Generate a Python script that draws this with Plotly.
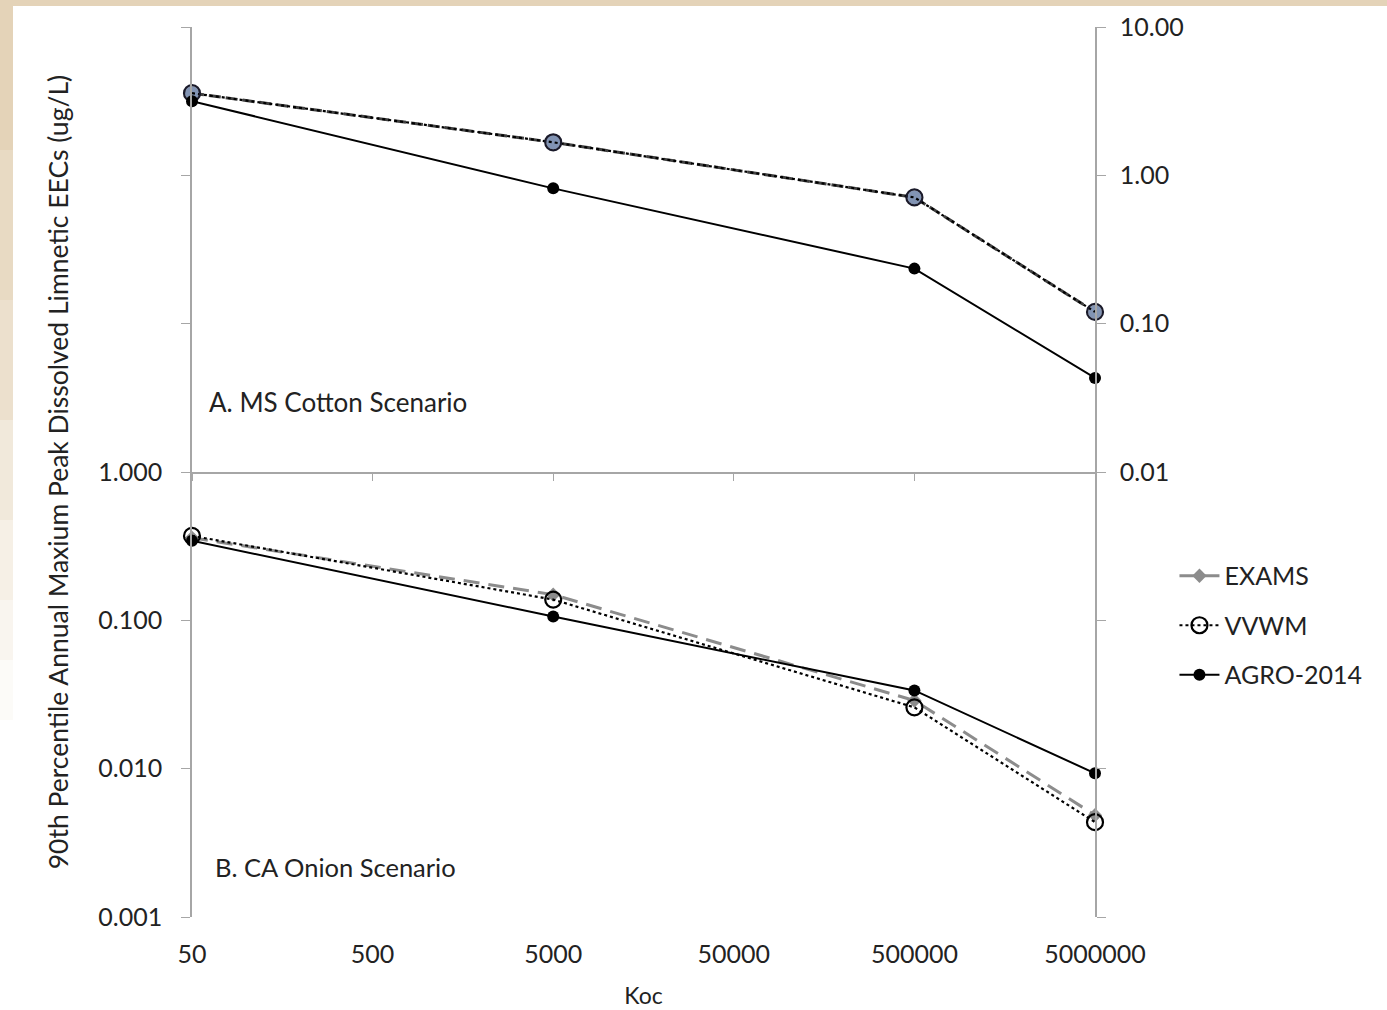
import math
import plotly.graph_objects as go

koc = [50, 5000, 500000, 5000000]

# Panel A: MS Cotton (top, right axis)
a_exams = [3.58, 1.67, 0.71, 0.120]
a_vvwm = [3.58, 1.67, 0.71, 0.120]
a_agro = [3.16, 0.817, 0.235, 0.0431]

# Panel B: CA Onion (bottom, left axis)
b_exams = [0.36, 0.149, 0.0288, 0.00486]
b_vvwm = [0.371, 0.138, 0.0259, 0.00436]
b_agro = [0.344, 0.106, 0.0337, 0.0093]

x_ticks = [50, 500, 5000, 50000, 500000, 5000000]
x_ticklabels = ["50", "500", "5000", "50000", "500000", "5000000"]
yb_ticks = [0.001, 0.01, 0.1, 1]
yb_labels = ["0.001", "0.010", "0.100", "1.000"]
ya_ticks = [0.01, 0.1, 1, 10]
ya_labels = ["0.01", "0.10", "1.00", "10.00"]

FONT = "Lato, Open Sans, sans-serif"
GRAY = "#8c8c8c"
AXC = "#a6a6a6"
TXT = "#222222"

fig = go.Figure()

# Bottom panel
fig.add_trace(go.Scatter(x=koc, y=b_exams, name="EXAMS", legendgroup="g1", mode="lines+markers",
                         line=dict(color=GRAY, width=3, dash="16px,9px"),
                         marker=dict(symbol="diamond", size=11, color=GRAY),
                         cliponaxis=False, xaxis="x", yaxis="y"))
fig.add_trace(go.Scatter(x=koc, y=b_vvwm, name="VVWM", legendgroup="g2", mode="lines+markers",
                         line=dict(color="black", width=2.2, dash="dot"),
                         marker=dict(symbol="circle-open", size=16, color="black", line=dict(width=2.2)),
                         cliponaxis=False, xaxis="x", yaxis="y"))
fig.add_trace(go.Scatter(x=koc, y=b_agro, name="AGRO-2014", legendgroup="g3", mode="lines+markers",
                         line=dict(color="black", width=2),
                         marker=dict(symbol="circle", size=12, color="black"),
                         cliponaxis=False, xaxis="x", yaxis="y"))

# Top panel
fig.add_trace(go.Scatter(x=koc, y=a_exams, name="EXAMS", mode="lines+markers", showlegend=False,
                         line=dict(color="#404040", width=3, dash="12px,5px"),
                         marker=dict(symbol="circle", size=14, color="#8294b4"),
                         cliponaxis=False, xaxis="x2", yaxis="y2"))
fig.add_trace(go.Scatter(x=koc, y=a_vvwm, name="VVWM", mode="lines+markers", showlegend=False,
                         line=dict(color="black", width=2.2, dash="dot"),
                         marker=dict(symbol="circle-open", size=16, color="#1a1a2a", line=dict(width=2.2)),
                         cliponaxis=False, xaxis="x2", yaxis="y2"))
fig.add_trace(go.Scatter(x=koc, y=a_agro, name="AGRO-2014", mode="lines+markers", showlegend=False,
                         line=dict(color="black", width=2),
                         marker=dict(symbol="circle", size=12, color="black"),
                         cliponaxis=False, xaxis="x2", yaxis="y2"))

xr = [math.log10(koc[0]) - 1e-6, math.log10(koc[-1]) + 1e-6]

fig.update_layout(
    width=1387, height=1010,
    margin=dict(l=192, r=292, t=27, b=93),
    paper_bgcolor="white", plot_bgcolor="white",
    font=dict(family=FONT, size=25, color=TXT),
    showlegend=True,
    legend=dict(x=1.088, y=0.409, xanchor="left", yanchor="top",
                font=dict(size=25, color=TXT), bgcolor="rgba(0,0,0,0)",
                itemwidth=40, tracegroupgap=14),
    xaxis=dict(type="log", range=xr, domain=[0, 1], anchor="y", automargin=False,
               tickvals=x_ticks, ticktext=x_ticklabels,
               showgrid=False, zeroline=False, showline=False,
               ticks="", ticklen=0, tickfont=dict(size=25), ticklabelstandoff=20,
               title=dict(text="Koc", font=dict(size=23), standoff=20)),
    xaxis2=dict(type="log", range=xr, domain=[0, 1], anchor="y2", matches="x", automargin=False,
                tickvals=x_ticks, showticklabels=False,
                showgrid=False, zeroline=False, showline=True, linecolor=AXC, linewidth=1.5,
                ticks="outside", ticklen=7, tickcolor=AXC),
    yaxis=dict(type="log", range=[-3, 0], domain=[0, 0.5], anchor="x", side="left", automargin=False,
               tickvals=yb_ticks, ticktext=yb_labels,
               showgrid=False, zeroline=False, showline=True, linecolor=AXC, linewidth=1.5,
               ticks="outside", ticklen=9, tickcolor=AXC, mirror="ticks",
               tickfont=dict(size=25), ticklabelstandoff=14),
    yaxis2=dict(type="log", range=[-2, 1], domain=[0.5, 1], anchor="x2", side="right", automargin=False,
                tickvals=ya_ticks, ticktext=ya_labels,
                showgrid=False, zeroline=False, showline=True, linecolor=AXC, linewidth=1.5,
                ticks="outside", ticklen=9, tickcolor=AXC, mirror="ticks",
                tickfont=dict(size=25), ticklabelstandoff=9),
)

fig.add_annotation(x=-0.148, y=0.5, xref="paper", yref="paper",
                   text="90th Percentile Annual Maxium Peak Dissolved Limnetic EECs (ug/L)",
                   textangle=-90, showarrow=False, font=dict(size=26.5, color=TXT),
                   xanchor="center", yanchor="middle")
fig.add_annotation(x=0.0166, y=0.579, xref="paper", yref="paper", text="A. MS Cotton Scenario",
                   showarrow=False, xanchor="left", yanchor="middle", font=dict(size=26, color=TXT))
fig.add_annotation(x=0.0233, y=0.056, xref="paper", yref="paper", text="B. CA Onion Scenario",
                   showarrow=False, xanchor="left", yanchor="middle", font=dict(size=25.5, color=TXT))

# beige frame at top and left edges
px = lambda p: (p - 192) / 903
py = lambda p: (917 - p) / 890
fig.add_shape(type="rect", xref="paper", yref="paper", x0=px(0), x1=px(1387), y0=py(6), y1=py(0),
              fillcolor="#e4d3b8", line=dict(width=0), layer="below")
bands = [(0, 150, 1.0), (150, 300, 0.85), (300, 420, 0.7), (420, 520, 0.5),
         (520, 600, 0.35), (600, 660, 0.22), (660, 720, 0.1)]
for y0, y1, op in bands:
    fig.add_shape(type="rect", xref="paper", yref="paper", x0=px(0), x1=px(13), y0=py(y1), y1=py(y0),
                  fillcolor="#e4d3b8", opacity=op, line=dict(width=0), layer="below")

fig.write_html("out.html", config={"displayModeBar": False},
               post_script="document.body.style.margin='0px';")
